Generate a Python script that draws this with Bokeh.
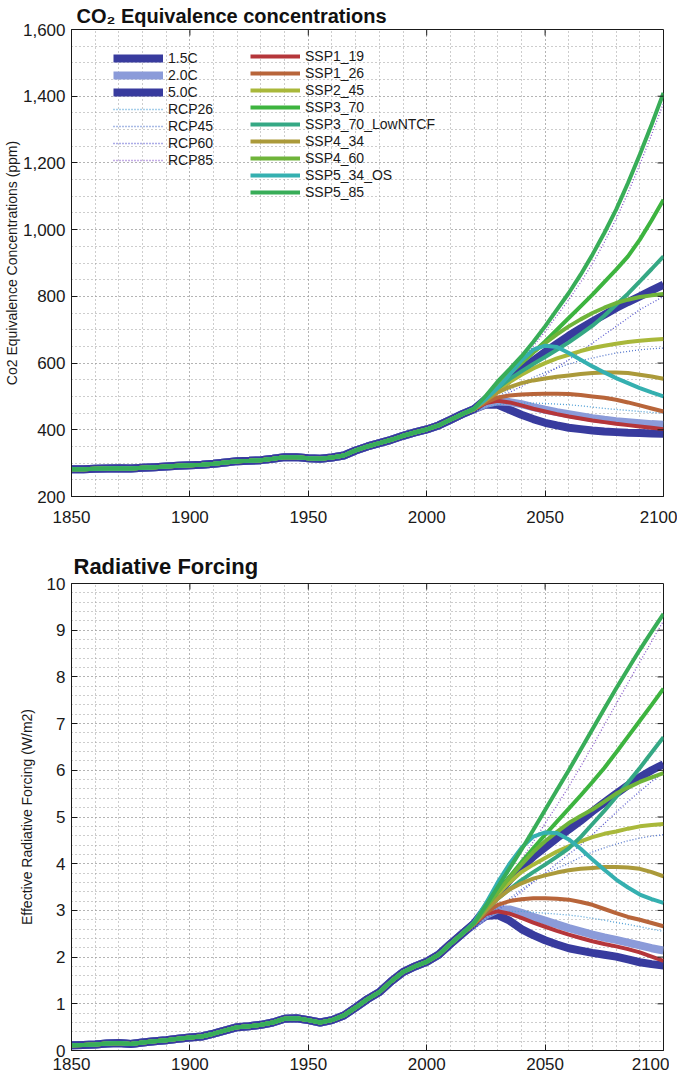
import math
from bokeh.plotting import figure
from bokeh.layouts import column
from bokeh.models import (SingleIntervalTicker, NumeralTickFormatter, Legend, LegendItem, Range1d)
from bokeh.embed import file_html
from bokeh.resources import INLINE

# ---------------- data ----------------
hist_years = list(range(1850, 2016, 5))
fut_years = list(range(2020, 2101, 5))

x_ticks = [1850, 1900, 1950, 2000, 2050, 2100]
co2_ticks = [200, 400, 600, 800, 1000, 1200, 1400, 1600]
rf_ticks = [0, 1, 2, 3, 4, 5, 6, 7, 8, 9, 10]

hist_co2 = [282, 282, 283, 284, 285, 284, 286, 288, 290, 292, 294, 295, 298, 302, 306, 307,
            309, 313, 318, 318, 315, 313, 317, 323, 338, 350, 360, 370, 382, 392, 401, 413,
            430, 447]
hist_rf = [0.11, 0.12, 0.13, 0.15, 0.16, 0.14, 0.17, 0.20, 0.22, 0.25, 0.28, 0.30, 0.36, 0.43,
           0.50, 0.52, 0.55, 0.60, 0.68, 0.69, 0.65, 0.60, 0.65, 0.75, 0.92, 1.10, 1.25, 1.48,
           1.68, 1.80, 1.90, 2.05, 2.28, 2.50]

# CO2 equivalence (ppm), 2020..2100 every 5 years
co2_1p5C = [462, 476, 475, 460, 445, 432, 421, 413, 406, 402, 398, 395, 393, 391, 390, 389, 388]
co2_2p0C = [462, 478, 485, 483, 477, 468, 460, 453, 447, 441, 435, 430, 426, 423, 420, 417, 415]
co2_5p0C = [462, 492, 522, 552, 580, 607, 633, 658, 682, 704, 725, 745, 765, 783, 800, 818, 835]
co2_rcp26 = [455, 468, 475, 479, 480, 480, 479, 477, 475, 472, 468, 464, 461, 458, 455, 452, 450]
co2_rcp45 = [455, 478, 500, 520, 540, 557, 572, 585, 597, 607, 615, 623, 630, 635, 640, 643, 645]
co2_rcp60 = [455, 475, 495, 512, 530, 547, 565, 587, 610, 635, 660, 685, 710, 735, 760, 780, 800]
co2_rcp85 = [460, 495, 535, 572, 610, 650, 695, 742, 790, 842, 898, 962, 1032, 1110, 1195, 1285,
             1380]
co2_ssp119 = [462, 480, 487, 482, 473, 463, 455, 447, 440, 434, 428, 423, 418, 414, 410, 406, 402]
co2_ssp126 = [462, 482, 497, 503, 506, 507, 508, 508, 507, 504, 500, 496, 490, 482, 473, 464, 455]
co2_ssp245 = [462, 490, 518, 543, 565, 584, 600, 614, 625, 636, 645, 652, 658, 663, 667, 670, 672]
co2_ssp370 = [462, 500, 538, 570, 600, 632, 665, 700, 735, 770, 805, 843, 880, 920, 970, 1028,
              1090]
co2_ssp370low = [462, 494, 525, 552, 575, 597, 618, 640, 662, 687, 712, 742, 775, 808, 845, 882,
                 920]
co2_ssp434 = [462, 488, 512, 528, 540, 548, 554, 559, 563, 567, 570, 572, 572, 570, 565, 560, 553]
co2_ssp460 = [462, 497, 533, 568, 600, 632, 660, 686, 710, 731, 750, 766, 780, 790, 798, 803, 807]
co2_ssp534os = [464, 492, 525, 565, 608, 640, 652, 648, 630, 610, 590, 572, 555, 540, 525, 512,
                500]
co2_ssp585 = [463, 502, 545, 582, 620, 663, 710, 760, 810, 865, 925, 990, 1060, 1140, 1225, 1315,
              1410]

# Effective radiative forcing (W/m2), 2020..2100 every 5 years
rf_1p5C = [2.71, 2.88, 2.90, 2.78, 2.60, 2.47, 2.36, 2.27, 2.19, 2.14, 2.09, 2.05, 2.01, 1.95,
           1.89, 1.85, 1.82]
rf_2p0C = [2.71, 2.90, 3.02, 3.02, 2.95, 2.86, 2.78, 2.70, 2.62, 2.55, 2.48, 2.42, 2.37, 2.31,
           2.25, 2.19, 2.14]
rf_5p0C = [2.72, 3.05, 3.35, 3.65, 3.92, 4.15, 4.35, 4.55, 4.73, 4.92, 5.12, 5.31, 5.50, 5.68,
           5.85, 6.00, 6.13]
rf_rcp26 = [2.65, 2.85, 2.95, 2.98, 2.98, 2.96, 2.94, 2.92, 2.90, 2.87, 2.83, 2.79, 2.74, 2.70,
            2.65, 2.60, 2.55]
rf_rcp45 = [2.62, 2.85, 3.05, 3.25, 3.45, 3.62, 3.78, 3.90, 4.01, 4.14, 4.25, 4.34, 4.42, 4.49,
            4.55, 4.59, 4.62]
rf_rcp60 = [2.60, 2.80, 3.00, 3.20, 3.40, 3.60, 3.80, 4.00, 4.20, 4.40, 4.62, 4.86, 5.10, 5.33,
            5.55, 5.76, 5.95]
rf_rcp85 = [2.65, 3.00, 3.35, 3.70, 4.08, 4.47, 4.86, 5.25, 5.65, 6.08, 6.52, 6.97, 7.42, 7.87,
            8.32, 8.76, 9.20]
rf_ssp119 = [2.71, 2.92, 2.98, 2.93, 2.84, 2.74, 2.65, 2.56, 2.48, 2.41, 2.34, 2.28, 2.23, 2.17,
             2.10, 2.01, 1.92]
rf_ssp126 = [2.71, 2.95, 3.12, 3.20, 3.24, 3.26, 3.26, 3.25, 3.23, 3.18, 3.12, 3.03, 2.94, 2.86,
             2.80, 2.73, 2.66]
rf_ssp245 = [2.72, 3.05, 3.35, 3.60, 3.82, 3.98, 4.12, 4.26, 4.37, 4.48, 4.57, 4.64, 4.69, 4.75,
             4.80, 4.83, 4.85]
rf_ssp370 = [2.73, 3.05, 3.40, 3.72, 4.03, 4.33, 4.62, 4.90, 5.18, 5.46, 5.75, 6.05, 6.38, 6.72,
             7.06, 7.40, 7.75]
rf_ssp370low = [2.72, 3.00, 3.25, 3.45, 3.65, 3.82, 3.98, 4.15, 4.33, 4.57, 4.85, 5.13, 5.43,
                5.74, 6.05, 6.38, 6.71]
rf_ssp434 = [2.71, 3.00, 3.25, 3.45, 3.58, 3.68, 3.75, 3.81, 3.86, 3.89, 3.91, 3.93, 3.93, 3.92,
             3.89, 3.82, 3.73]
rf_ssp460 = [2.72, 3.06, 3.40, 3.70, 3.98, 4.25, 4.48, 4.68, 4.87, 5.02, 5.16, 5.33, 5.50, 5.63,
             5.75, 5.85, 5.94]
rf_ssp534os = [2.75, 3.15, 3.60, 4.00, 4.34, 4.58, 4.67, 4.66, 4.52, 4.32, 4.09, 3.87, 3.66,
               3.49, 3.34, 3.24, 3.16]
rf_ssp585 = [2.73, 3.10, 3.50, 3.90, 4.30, 4.72, 5.15, 5.58, 6.00, 6.44, 6.88, 7.32, 7.75, 8.17,
             8.58, 8.97, 9.35]

names = ["1.5C", "2.0C", "5.0C", "RCP26", "RCP45", "RCP60", "RCP85",
         "SSP1_19", "SSP1_26", "SSP2_45", "SSP3_70", "SSP3_70_LowNTCF",
         "SSP4_34", "SSP4_60", "SSP5_34_OS", "SSP5_85"]
co2_series = [co2_1p5C, co2_2p0C, co2_5p0C, co2_rcp26, co2_rcp45, co2_rcp60, co2_rcp85,
              co2_ssp119, co2_ssp126, co2_ssp245, co2_ssp370, co2_ssp370low,
              co2_ssp434, co2_ssp460, co2_ssp534os, co2_ssp585]
rf_series = [rf_1p5C, rf_2p0C, rf_5p0C, rf_rcp26, rf_rcp45, rf_rcp60, rf_rcp85,
             rf_ssp119, rf_ssp126, rf_ssp245, rf_ssp370, rf_ssp370low,
             rf_ssp434, rf_ssp460, rf_ssp534os, rf_ssp585]

# ---------------- styles ----------------
styles = {
    "1.5C": dict(line_color="#383b9e", line_width=8),
    "2.0C": dict(line_color="#8b9bd9", line_width=8),
    "5.0C": dict(line_color="#383b9e", line_width=8),
    "RCP26": dict(line_color="#4f9fd6", line_width=1.3, line_dash="1 2"),
    "RCP45": dict(line_color="#5577cc", line_width=1.3, line_dash="1 2"),
    "RCP60": dict(line_color="#5a5ad0", line_width=1.3, line_dash="1 2"),
    "RCP85": dict(line_color="#8a5ccc", line_width=1.3, line_dash="1 2"),
    "SSP1_19": dict(line_color="#b5363a", line_width=4),
    "SSP1_26": dict(line_color="#b8653a", line_width=4),
    "SSP2_45": dict(line_color="#a9b83a", line_width=4),
    "SSP3_70": dict(line_color="#3db43f", line_width=4),
    "SSP3_70_LowNTCF": dict(line_color="#35a884", line_width=4),
    "SSP4_34": dict(line_color="#ab9a3a", line_width=4),
    "SSP4_60": dict(line_color="#6fb43a", line_width=4),
    "SSP5_34_OS": dict(line_color="#35b0b0", line_width=4),
    "SSP5_85": dict(line_color="#38ad58", line_width=4),
}

FONT = "Liberation Sans"
INK = "#1a1a1a"


def make_fig(title, ylabel, y0, y1, y_int, y_minor, y_ticks, hist, series, left, top, bottom,
             right, title_size, title_offset, title_standoff, label_standoff, x_standoff,
             yfmt=None):
    p = figure(frame_width=592, frame_height=467, output_backend="svg",
               toolbar_location=None, x_range=Range1d(1850, 2100), y_range=Range1d(y0, y1),
               min_border_left=left, min_border_top=top, min_border_bottom=bottom,
               min_border_right=right)
    p.title.text = title
    p.title.text_font = FONT
    p.title.text_font_size = title_size
    p.title.text_font_style = "bold"
    p.title.text_color = "#111111"
    p.title.align = "left"
    p.title.offset = title_offset
    p.title.standoff = title_standoff
    p.outline_line_color = INK
    p.background_fill_color = "white"

    xt = SingleIntervalTicker(interval=50, num_minor_ticks=5)
    yt = SingleIntervalTicker(interval=y_int, num_minor_ticks=y_minor)
    p.xaxis.ticker = xt
    p.yaxis.ticker = yt
    if yfmt is not None:
        p.yaxis.formatter = yfmt
    for ax in (p.xaxis[0], p.yaxis[0]):
        ax.major_label_text_font = FONT
        ax.major_label_text_font_size = "17px"
        ax.major_label_text_color = INK
        ax.major_tick_in = 6
        ax.major_tick_out = 0
        ax.minor_tick_in = 0
        ax.minor_tick_out = 0
        ax.axis_line_color = INK
        ax.major_tick_line_color = INK
    p.yaxis.axis_label = ylabel
    p.yaxis.axis_label_text_font = FONT
    p.yaxis.axis_label_text_font_size = "14px"
    p.yaxis.axis_label_text_font_style = "normal"
    p.yaxis.axis_label_text_color = INK
    p.yaxis.axis_label_standoff = label_standoff
    p.yaxis.major_label_standoff = 6
    p.xaxis.major_label_standoff = x_standoff

    for g in (p.xgrid[0], p.ygrid[0]):
        g.grid_line_color = "#9a9a9a"
        g.grid_line_dash = "1 3"
        g.grid_line_width = 1
        g.minor_grid_line_color = "#9a9a9a"
        g.minor_grid_line_dash = "1 3"
        g.minor_grid_line_width = 1

    rends = {}
    for n, fut in zip(names, series):
        rends[n] = p.line(hist_years + fut_years, hist + fut, **styles[n])

    # inward tick marks mirrored on the top and right edges of the box
    inner_x = x_ticks[1:-1]
    inner_y = y_ticks[1:-1]
    p.scatter(inner_x, [y1] * len(inner_x), marker="dash", size=12, angle=math.pi / 2,
              line_color=INK, line_width=1)
    p.scatter([2100] * len(inner_y), inner_y, marker="dash", size=12,
              line_color=INK, line_width=1)
    return p, rends


p1, r1 = make_fig("CO\u2082 Equivalence concentrations", "Co2 Equivalence Concentrations (ppm)",
                  200, 1600, 200, 4, co2_ticks, hist_co2, co2_series, 63, 26, 42, 14,
                  "20px", 5, 5, 0, 14, NumeralTickFormatter(format="0,0"))
p2, r2 = make_fig("Radiative Forcing", "Effective Radiative Forcing (W/m2)",
                  0, 10, 1, 5, rf_ticks, hist_rf, rf_series, 60, 45, 26, 17,
                  "22px", 2, 9, 9, 7)

legend_cols = [names[:7], names[7:]]
locs = [(42, 328), (179, 296)]
for cols, loc in zip(legend_cols, locs):
    lg = Legend(items=[LegendItem(label=n, renderers=[r1[n]]) for n in cols], location=loc)
    lg.background_fill_alpha = 0
    lg.border_line_alpha = 0
    lg.padding = 0
    lg.margin = 0
    lg.spacing = 1
    lg.glyph_width = 50
    lg.glyph_height = 16
    lg.label_height = 16
    lg.label_standoff = 5
    lg.label_text_font = FONT
    lg.label_text_font_size = "14px"
    lg.label_text_color = INK
    p1.add_layout(lg)

layout = column(p1, p2)
open("out.html", "w").write(file_html(layout, INLINE))
